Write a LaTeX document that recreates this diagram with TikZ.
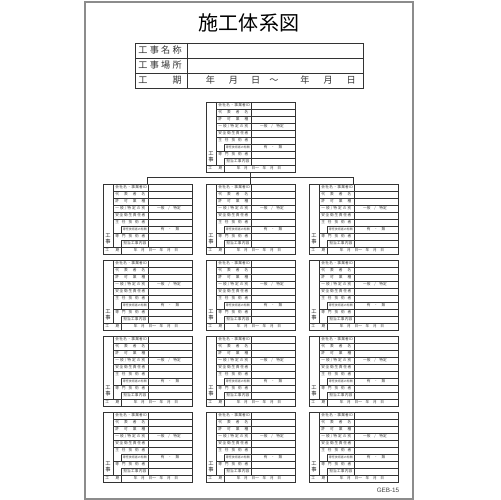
\documentclass[tikz,border=0pt]{standalone}
\usepackage{fontspec}
\setmainfont{Liberation Sans}
\newfontfamily\jp{Noto Sans CJK JP}
\newcommand\jf[2]{\makebox[#1]{#2}}
\tikzset{
  ln/.style={line width=0.35pt, draw=black!80},
  sheet/.style={line width=0.7pt, draw=black!45},
  boxtxt/.style={font=\jp\fontsize{2.1}{2.4}\selectfont, inner sep=0pt, text=black!75},
  smalltxt/.style={font=\jp\fontsize{1.7}{2}\selectfont, inner sep=0pt, text=black!75},
  vtxt/.style={font=\jp\fontsize{3.0}{3.3}\selectfont, inner sep=0pt, align=center, text=black!85},
  hdtxt/.style={font=\jp\fontsize{5.2}{6}\selectfont, inner sep=0pt, text=black!80},
  pics/taikei/.style={code={
    \node[ln, draw, inner sep=0pt, minimum width=1.78cm, minimum height=1.4cm] (-frame) at (44.5,35) {};
    \draw[ln] (10,0) -- (10,63);
    \draw[ln] (45,0) -- (45,63);
    \foreach \yy in {7,14,21,28,35,49} {\draw[ln] (10,\yy) -- (89,\yy);}
    \foreach \yy in {42,56} {\draw[ln] (18,\yy) -- (89,\yy);}
    \draw[ln] (0,63) -- (89,63);
    \draw[ln] (18,42) -- (18,49);
    \draw[ln] (18,56) -- (18,63);
    \draw[ln] (18,63) -- (18,70);
    \node[boxtxt, anchor=west] (-l1) at (12,3.5) {\jf{0.63cm}{会\hfill 社\hfill 名\hfill ・\hfill 事\hfill 業\hfill 者\hfill ID}};
    \node[boxtxt, anchor=west] (-l2) at (12,10.5) {\jf{0.6cm}{代\hfill 表\hfill 者\hfill 名}};
    \node[boxtxt, anchor=west] (-l3) at (12,17.5) {\jf{0.6cm}{許\hfill 可\hfill 業\hfill 種}};
    \node[boxtxt, anchor=west] (-l4) at (12,24.5) {\jf{0.6cm}{一\hfill 般\hfill /\hfill 特\hfill 定\hfill の\hfill 別}};
    \node[boxtxt, anchor=west] (-l5) at (12,31.5) {\jf{0.6cm}{安\hfill 全\hfill 衛\hfill 生\hfill 責\hfill 任\hfill 者}};
    \node[boxtxt, anchor=west] (-l6) at (12,38.5) {\jf{0.6cm}{主\hfill 任\hfill 技\hfill 術\hfill 者}};
    \node[smalltxt, anchor=west] (-l7) at (20,45.5) {\jf{0.46cm}{専任技術者の有無}};
    \node[boxtxt, anchor=west] (-l8) at (12,52.5) {\jf{0.6cm}{専\hfill 門\hfill 技\hfill 術\hfill 者}};
    \node[boxtxt, anchor=west] (-l9) at (20,59.5) {\jf{0.46cm}{担\hfill 当\hfill 工\hfill 事\hfill 内\hfill 容}};
    \node[boxtxt, anchor=west] (-l10) at (2,66.5) {\jf{0.28cm}{工\hfill 期}};
    \node[boxtxt] (-v4) at (66,24.5) {一般　/　特定};
    \node[boxtxt] (-v7) at (67,45.5) {有　・　無};
    \node[boxtxt] (-v10) at (53,66.5) {年　月　日～　年　月　日};
    \node[vtxt] (-kj) at (5,55) {工\\事};
  }}
}
\begin{document}
\begin{tikzpicture}[x=0.02cm, y=-0.02cm]
\fill[white] (0,0) rectangle (500,500);
\path[use as bounding box] (0,0) rectangle (500,500);
\draw[sheet] (85,2) rectangle (413,499);
% title
\node[font=\jp\fontsize{11.4}{12}\selectfont, inner sep=0pt] (title) at (249,23) {施工体系図};
% header table
\draw[ln] (135,43) rectangle (363,88);
\draw[ln] (135,58) -- (363,58);
\draw[ln] (135,73) -- (363,73);
\draw[ln] (187,43) -- (187,88);
\node[hdtxt, anchor=west] (h1) at (138,50.5) {\jf{0.87cm}{工\hfill 事\hfill 名\hfill 称}};
\node[hdtxt, anchor=west] (h2) at (138,65.5) {\jf{0.87cm}{工\hfill 事\hfill 場\hfill 所}};
\node[hdtxt, anchor=west] (h3) at (138,80.5) {\jf{0.87cm}{工\hfill 期}};
\node[hdtxt, anchor=west] (hd) at (205.5,80.5) {年\hspace{0.28cm}月\hspace{0.26cm}日\hspace{0.18cm}～\hspace{0.44cm}年\hspace{0.28cm}月\hspace{0.28cm}日};
% boxes
\pic (top) at (206,102) {taikei};
\foreach \r/\yy in {1/184,2/260,3/336,4/412}{
  \foreach \c/\xx in {1/103,2/206,3/309}{
    \pic (b\r\c) at (\xx,\yy) {taikei};
  }
}
% connectors
\coordinate (busy) at (0,177);
\draw[ln] (top-frame.south) -- (b12-frame.north);
\draw[ln] (b11-frame.north) -- (b11-frame.north |- busy) -- (b13-frame.north |- busy) -- (b13-frame.north);
% code
\node[font=\fontsize{3.6}{4}\selectfont, text=black!75, inner sep=0pt] (code) at (388,490) {GEB-15};
\end{tikzpicture}
\end{document}
